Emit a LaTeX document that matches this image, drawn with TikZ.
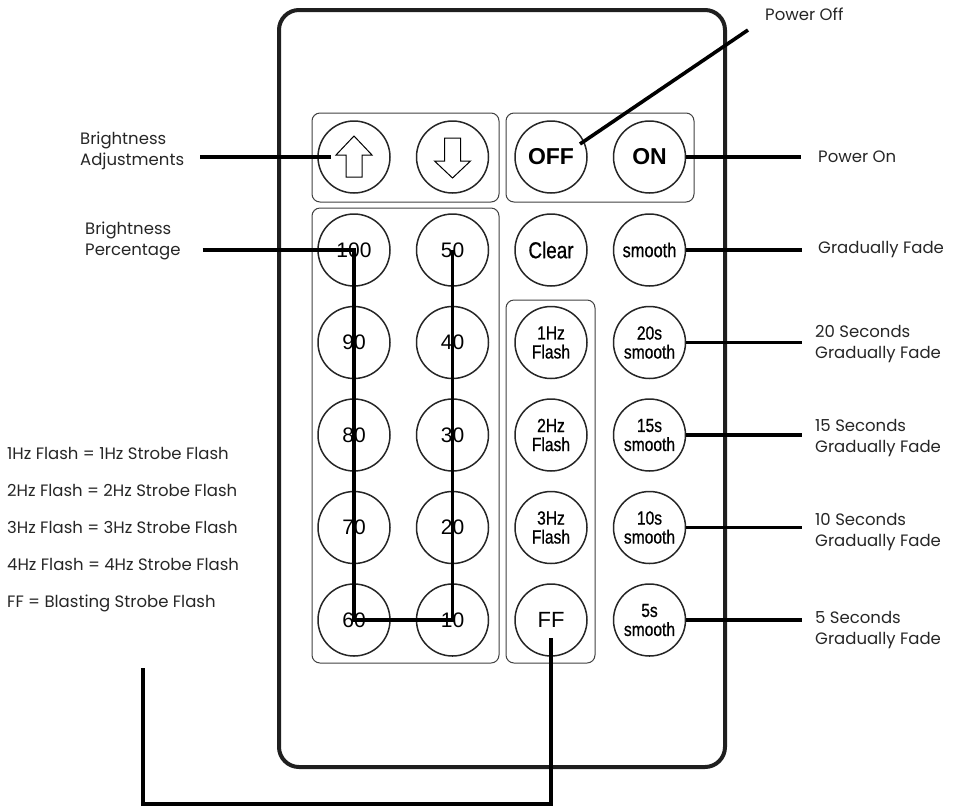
\documentclass[tikz,border=0pt]{standalone}
\usepackage{fontspec}
\setmainfont{Liberation Sans}
\newfontfamily\labelfont{Poppins}
\newfontfamily\keyfont{Liberation Sans}
\newfontfamily\narrowfont[FakeStretch=0.82, FakeBold=0.7]{Liberation Sans}

\begin{document}
\begin{tikzpicture}[
  x=1pt, y=-1pt,
  key/.style={circle, draw=black!85, line width=1.5pt, minimum size=72pt, inner sep=0pt, align=center, font=\keyfont\fontsize{21}{21}\selectfont},
  narrowkey/.style={key, font=\narrowfont\fontsize{19}{19}\selectfont},
  boldkey/.style={key, font=\keyfont\bfseries\fontsize{23}{23}\selectfont},
  group/.style={draw=black!75, line width=1pt, rounded corners=8pt},
  lead/.style={line width=3.6pt},
  note/.style={font=\labelfont\fontsize{16.5}{21.5}\selectfont, text=black!85, align=left, inner sep=0pt},
  node distance=98.5pt
]
\useasboundingbox (0,0) rectangle (956,807);
\draw[line width=4pt, draw=black!88, rounded corners=20pt] (279,10) rectangle (725,767);
\draw[group] (312,113) rectangle (499,202);
\draw[group] (506,113) rectangle (694,202);
\draw[group] (312,208) rectangle (499,663);
\draw[group] (506,300) rectangle (595,663);

\node[key] (up) at (354,157) {};
\node[key, right of=up] (down) {};
\node[boldkey, right of=down] (off) {OFF};
\node[boldkey, right of=off] (on) {ON};

\node[key] (k100) at (354,250) {100};
\node[key, right of=k100] (k50) {50};
\node[narrowkey, right of=k50, font=\narrowfont\fontsize{23}{23}\selectfont] (clear) {Clear};
\node[narrowkey, right of=clear, font=\narrowfont\fontsize{20}{20}\selectfont] (smooth) {smooth};

\node[key, below of=k100, node distance=92.5pt] (k90) {90};
\node[key, right of=k90] (k40) {40};
\node[narrowkey, right of=k40] (flash1) {1Hz\\Flash};
\node[narrowkey, right of=flash1] (s20) {20s\\smooth};

\node[key, below of=k90, node distance=92.5pt] (k80) {80};
\node[key, right of=k80] (k30) {30};
\node[narrowkey, right of=k30] (flash2) {2Hz\\Flash};
\node[narrowkey, right of=flash2] (s15) {15s\\smooth};

\node[key, below of=k80, node distance=92.5pt] (k70) {70};
\node[key, right of=k70] (k20) {20};
\node[narrowkey, right of=k20] (flash3) {3Hz\\Flash};
\node[narrowkey, right of=flash3] (s10) {10s\\smooth};

\node[key, below of=k70, node distance=92.5pt] (k60) {60};
\node[key, right of=k60] (k10) {10};
\node[key, right of=k10, font=\keyfont\fontsize{22}{22}\selectfont] (ff) {FF};
\node[narrowkey, right of=ff] (s5) {5s\\smooth};

\draw[line width=1pt, shift={(up.center)}] (0,-21) -- (18,-2) -- (8,-2) -- (8,20) -- (-8,20) -- (-8,-2) -- (-18,-2) -- cycle;
\draw[line width=1pt, shift={(down.center)}] (0,21) -- (18,4) -- (8,4) -- (8,-19) -- (-8,-19) -- (-8,4) -- (-18,4) -- cycle;

\node[note, anchor=west] (adjust) at (80,151) {Brightness\\Adjustments};
\node[note, anchor=west] (percent) at (85,241) {Brightness\\Percentage};
\node[note, anchor=west] (pwroff) at (765,14) {Power Off};
\node[note, anchor=west] (pwron) at (818,157) {Power On};
\node[note, anchor=west] (fade) at (818,250) {Gradually Fade};
\node[note, anchor=west] (fade20) at (815,344) {20 Seconds\\Gradually Fade};
\node[note, anchor=west] (fade15) at (815,438) {15 Seconds\\Gradually Fade};
\node[note, anchor=west] (fade10) at (815,532) {10 Seconds\\Gradually Fade};
\node[note, anchor=west] (fade5) at (815,630) {5 Seconds\\Gradually Fade};
\node[note, anchor=north west, font=\labelfont\fontsize{16.5}{37}\selectfont] (legend) at (7,447) {1Hz Flash = 1Hz Strobe Flash\\2Hz Flash = 2Hz Strobe Flash\\3Hz Flash = 3Hz Strobe Flash\\4Hz Flash = 4Hz Strobe Flash\\FF = Blasting Strobe Flash};
\coordinate (legtail) at (143,668);

\draw[lead, shorten <=16pt] (adjust.east |- up) -- ([shift={(-23,0)}]up.center);
\draw[lead, shorten <=22pt] (percent.east |- k100) -- (k100.center) -- (k60.center) -- (k10.center) -- (k50.center);
\draw[lead] ([shift={(29,-13)}]off.center) -- ([shift={(-17,16)}]pwroff.west);
\draw[lead, shorten >=17pt] (on) -- (on -| pwron.west);
\draw[lead, shorten >=16pt] (smooth) -- (smooth -| fade.west);
\draw[lead, shorten >=13pt] (s20) -- (s20 -| fade20.west);
\draw[lead, shorten >=13pt] (s15) -- (s15 -| fade15.west);
\draw[lead, shorten >=13pt] (s10) -- (s10 -| fade10.west);
\draw[lead, shorten >=13pt] (s5) -- (s5 -| fade5.west);
\draw[lead] ([shift={(0,18)}]ff.center) -- ++(0,166) -| (legtail);
\end{tikzpicture}
\end{document}
